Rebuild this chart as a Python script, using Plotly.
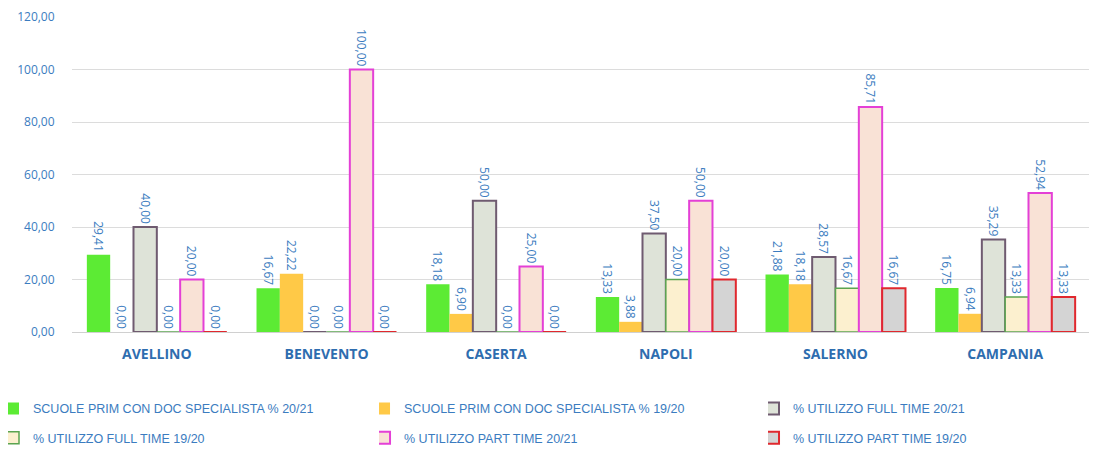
import plotly.graph_objects as go

categories = ["AVELLINO", "BENEVENTO", "CASERTA", "NAPOLI", "SALERNO", "CAMPANIA"]
series_names = [
    "SCUOLE PRIM CON DOC SPECIALISTA % 20/21",
    "SCUOLE PRIM CON DOC SPECIALISTA % 19/20",
    "% UTILIZZO FULL TIME 20/21",
    "% UTILIZZO FULL TIME 19/20",
    "% UTILIZZO PART TIME 20/21",
    "% UTILIZZO PART TIME 19/20",
]
spec_2021 = [29.41, 16.67, 18.18, 13.33, 21.88, 16.75]
spec_1920 = [0.00, 22.22, 6.90, 3.88, 18.18, 6.94]
ft_2021 = [40.00, 0.00, 50.00, 37.50, 28.57, 35.29]
ft_1920 = [0.00, 0.00, 0.00, 20.00, 16.67, 13.33]
pt_2021 = [20.00, 100.00, 25.00, 50.00, 85.71, 52.94]
pt_1920 = [0.00, 0.00, 0.00, 20.00, 16.67, 13.33]
y_ticks = [0, 20, 40, 60, 80, 100, 120]

values = [spec_2021, spec_1920, ft_2021, ft_1920, pt_2021, pt_1920]
fills = ["#5CEB34", "#FFC947", "#DEE3D8", "#FCF0CF", "#F9E2D6", "#D4D4D4"]
lines = ["#5CEB34", "#FFC947", "#6F5B70", "#5BA450", "#E440D6", "#E0282E"]
lwidths = [0, 0, 2, 1.5, 2, 2]

BLUE = "#3B7CC0"
W, H = 1089, 442  # page body adds an 8px offset

legend_ids = ["legend", "legend2", "legend3", "legend4", "legend5", "legend6"]
legend_x = [0.0, 0.3407, 0.6979, 0.0, 0.3407, 0.6979]
legend_y = [0.127, 0.127, 0.127, 0.061, 0.061, 0.061]

fig = go.Figure()
for name, vals, fc, lc, lw, lg in zip(series_names, values, fills, lines, lwidths, legend_ids):
    fig.add_trace(go.Bar(
        x=categories, y=vals, name=name, legend=lg, showlegend=True,
        marker=dict(color=fc, line=dict(color=lc, width=lw)),
        texttemplate="%{y:.2f}", textposition="outside", textangle=90,
        constraintext="none", cliponaxis=False,
        textfont=dict(color=BLUE, size=12, family="Open Sans"),
    ))

legends = {}
for lg, lx, ly in zip(legend_ids, legend_x, legend_y):
    legends[lg] = dict(orientation="h", xref="container", yref="container",
                       x=lx, y=ly, xanchor="left", yanchor="top",
                       indentation=-15, bgcolor="rgba(0,0,0,0)",
                       font=dict(size=12.5, color=BLUE, family="Liberation Sans"))

fig.update_layout(
    width=W, height=H,
    showlegend=True,
    separators=",.",
    barmode="group", bargap=0.175, bargroupgap=0,
    plot_bgcolor="white", paper_bgcolor="white",
    margin=dict(l=64, r=7, t=9, b=118),
    font=dict(family="Open Sans", color=BLUE),
    yaxis=dict(range=[0, 120.02], tickvals=y_ticks, tickformat=".2f",
               gridcolor="#DCDCDC", gridwidth=1, zeroline=False,
               showline=False, ticks="outside", ticklen=14,
               tickcolor="rgba(0,0,0,0)", ticklabeloverflow="allow",
               automargin=False,
               tickfont=dict(size=12, color=BLUE, family="Open Sans")),
    xaxis=dict(showline=True, linecolor="#D0D0D0", linewidth=1,
               ticks="outside", ticklen=9, tickcolor="rgba(0,0,0,0)",
               automargin=False,
               tickfont=dict(size=14, color="#2E6DAF", family="Open Sans", weight="bold")),
    **legends,
)

fig.write_html("out.html")
